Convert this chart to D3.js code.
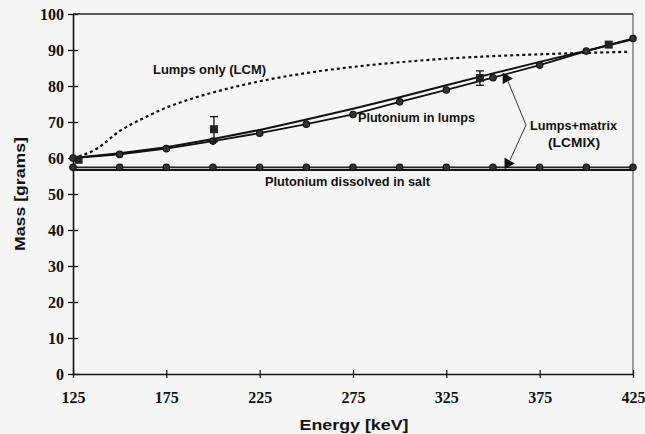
<!DOCTYPE html>
<html>
<head>
<meta charset="utf-8">
<script src="https://cdn.jsdelivr.net/npm/d3@7"></script>
<style>
  body { margin: 0; background: #f5f5f5; }
  svg { display: block; }
</style>
</head>
<body>
<div id="chart"></div>
<script>
// energies where the calculated curves are marked
const energies = [125, 150, 175, 200, 225, 250, 275, 300, 325, 350, 375, 400, 425]
// plutonium in lumps, calculated (circles)
const lumpsCalc = [60, 61, 62.6, 64.7, 66.9, 69.4, 72.1, 75.6, 78.9, 82.3, 85.8, 89.7, 93.2]
// plutonium in lumps, second curve (no markers)
const lumpsFit = [60, 61.3, 63, 65.3, 67.8, 70.7, 73.7, 76.9, 80.2, 83.5, 86.7, 89.8, 93]
// plutonium dissolved in salt
const saltCalc = [57.4, 57.4, 57.4, 57.4, 57.4, 57.4, 57.4, 57.4, 57.4, 57.4, 57.4, 57.4, 57.4]
const saltFitE = [125, 425]
const saltFit = [56.7, 56.7]
// lumps only (LCM), dotted
const lcmE = [125, 137.5, 150, 162.5, 175, 187.5, 200, 225, 250, 275, 300, 325, 350, 375, 400, 422]
const lcmMass = [60, 62.5, 67.5, 71, 74, 76.3, 78.2, 81.3, 83.6, 85.3, 86.6, 87.6, 88.3, 88.8, 89.2, 89.5]
// measured points with error bars
const measE = [128, 200.5, 343, 412]
const measMass = [59.5, 68, 82.2, 91.5]
const measErr = [0.8, 3.5, 2, 0.8]
// lumps+matrix (LCMIX)
const lcmixE = [357, 358]
const lcmixMass = [82.1, 58.5]

const xTicks = [125, 175, 225, 275, 325, 375, 425]
const yTicks = [0, 10, 20, 30, 40, 50, 60, 70, 80, 90, 100]

const w = 645, h = 434

const svg = d3.select("#chart").append("svg")
    .attr("width", w).attr("height", h)

svg.append("rect").attr("width", w).attr("height", h).attr("fill", "#f5f5f5")

const x = d3.scaleLinear().domain([125, 425]).range([73, 633])
const y = d3.scaleLinear().domain([0, 100]).range([374, 14])

// frame
svg.append("line").attr("x1", x(125)).attr("x2", x(425)).attr("y1", y(100)).attr("y2", y(100))
    .attr("stroke", "#222").attr("stroke-width", 1.6)
svg.append("line").attr("x1", x(425)).attr("x2", x(425)).attr("y1", y(100)).attr("y2", y(0))
    .attr("stroke", "#444").attr("stroke-width", 1)

// y axis
const yAxis = svg.append("g").attr("transform", "translate(" + x(125) + ",0)")
    .call(d3.axisLeft(y).tickValues(yTicks).tickSizeInner(5).tickSizeOuter(0).tickPadding(4))
yAxis.select(".domain").attr("stroke", "#111").attr("stroke-width", 1.6)
yAxis.selectAll(".tick line").attr("x2", 5).attr("x1", -5).attr("stroke", "#111").attr("stroke-width", 1.3)
yAxis.selectAll(".tick text").attr("x", -9)
    .style("font-family", "'Liberation Serif', serif").style("font-size", "16px")
    .style("font-weight", "bold").attr("fill", "#111")

// x axis
const xAxis = svg.append("g").attr("transform", "translate(0," + y(0) + ")")
    .call(d3.axisBottom(x).tickValues(xTicks).tickSizeInner(4).tickSizeOuter(0).tickPadding(14))
xAxis.select(".domain").attr("stroke", "#111").attr("stroke-width", 1.6)
xAxis.selectAll(".tick line").attr("y1", -4).attr("y2", 4).attr("stroke", "#111").attr("stroke-width", 1.2)
xAxis.selectAll(".tick text")
    .style("font-family", "'Liberation Serif', serif").style("font-size", "16px")
    .style("font-weight", "bold").attr("fill", "#111")

const line = d3.line().x(function(d) { return x(d[0]) }).y(function(d) { return y(d[1]) })
const zip = function(a, b) { return a.map(function(v, i) { return [v, b[i]] }) }

// salt lines
svg.append("path").datum(zip(saltFitE, saltFit)).attr("d", line)
    .attr("fill", "none").attr("stroke", "#111").attr("stroke-width", 2)
svg.append("path").datum(zip(energies, saltCalc)).attr("d", line)
    .attr("fill", "none").attr("stroke", "#222").attr("stroke-width", 1.6)

// LCM dotted
svg.append("path").datum(zip(lcmE, lcmMass)).attr("d", line.curve(d3.curveMonotoneX))
    .attr("fill", "none").attr("stroke", "#111").attr("stroke-width", 2.2)
    .attr("stroke-dasharray", "3,3")
line.curve(d3.curveLinear)

// lumps curves
svg.append("path").datum(zip(energies, lumpsFit)).attr("d", line)
    .attr("fill", "none").attr("stroke", "#111").attr("stroke-width", 2)
svg.append("path").datum(zip(energies, lumpsCalc)).attr("d", line)
    .attr("fill", "none").attr("stroke", "#111").attr("stroke-width", 1.8)

// circle markers
svg.selectAll(".lc").data(zip(energies, lumpsCalc).concat(zip(energies, saltCalc)))
    .enter().append("circle")
    .attr("cx", function(d) { return x(d[0]) })
    .attr("cy", function(d) { return y(d[1]) })
    .attr("r", 3.2)
    .attr("fill", "#333").attr("stroke", "#111").attr("stroke-width", 1.2)

// measured squares + error bars
const meas = measE.map(function(e, i) { return { e: e, m: measMass[i], err: measErr[i] } })
const eb = svg.selectAll(".eb").data(meas).enter().append("g")
eb.append("line")
    .attr("x1", function(d) { return x(d.e) }).attr("x2", function(d) { return x(d.e) })
    .attr("y1", function(d) { return y(d.m + d.err) }).attr("y2", function(d) { return y(d.m - d.err) })
    .attr("stroke", "#111").attr("stroke-width", 1.3)
eb.filter(function(d) { return d.err > 1 }).each(function(d) {
    var g = d3.select(this)
    ;[d.m + d.err, d.m - d.err].forEach(function(v) {
        g.append("line").attr("x1", x(d.e) - 4).attr("x2", x(d.e) + 4)
            .attr("y1", y(v)).attr("y2", y(v)).attr("stroke", "#111").attr("stroke-width", 1.3)
    })
})
eb.append("rect")
    .attr("x", function(d) { return x(d.e) - 4 }).attr("y", function(d) { return y(d.m) - 4 })
    .attr("width", 8).attr("height", 8).attr("fill", "#222")

// LCMIX triangles and pointer lines
const lab = [526, 125]
svg.selectAll(".ptr").data(zip(lcmixE, lcmixMass)).enter().append("line")
    .attr("x1", lab[0]).attr("y1", lab[1])
    .attr("x2", function(d) { return x(d[0]) + 2 }).attr("y2", function(d) { return y(d[1]) + (d[1] > 70 ? 3 : -3) })
    .attr("stroke", "#333").attr("stroke-width", 1)
svg.selectAll(".tri").data(zip(lcmixE, lcmixMass)).enter().append("path")
    .attr("d", d3.symbol().type(d3.symbolTriangle).size(60))
    .attr("transform", function(d) { return "translate(" + x(d[0]) + "," + y(d[1]) + ") rotate(90)" })
    .attr("fill", "#111")

// labels
const lbl = function(t, xx, yy, len, anchor) {
    svg.append("text").attr("x", xx).attr("y", yy).text(t)
        .attr("text-anchor", anchor || "start")
        .attr("textLength", len).attr("lengthAdjust", "spacingAndGlyphs")
        .style("font-family", "'Liberation Sans', Arial, sans-serif")
        .style("font-size", "12px").style("font-weight", "bold").attr("fill", "#111")
}
lbl("Lumps only (LCM)", 153, 74, 113)
lbl("Plutonium in lumps", 358, 122, 117)
lbl("Plutonium dissolved in salt", 265, 186, 165)
lbl("Lumps+matrix", 530, 130, 87)
lbl("(LCMIX)", 548, 147, 52)

// axis titles
svg.append("text").attr("x", 354).attr("y", 430).text("Energy [keV]")
    .attr("text-anchor", "middle").attr("textLength", 109).attr("lengthAdjust", "spacingAndGlyphs")
    .style("font-family", "'Liberation Sans', Arial, sans-serif")
    .style("font-size", "14px").style("font-weight", "bold").attr("fill", "#111")
svg.append("text").attr("transform", "translate(25,194) rotate(-90)").text("Mass [grams]")
    .attr("text-anchor", "middle").attr("textLength", 114).attr("lengthAdjust", "spacingAndGlyphs")
    .style("font-family", "'Liberation Sans', Arial, sans-serif")
    .style("font-size", "14px").style("font-weight", "bold").attr("fill", "#111")
</script>
</body>
</html>
